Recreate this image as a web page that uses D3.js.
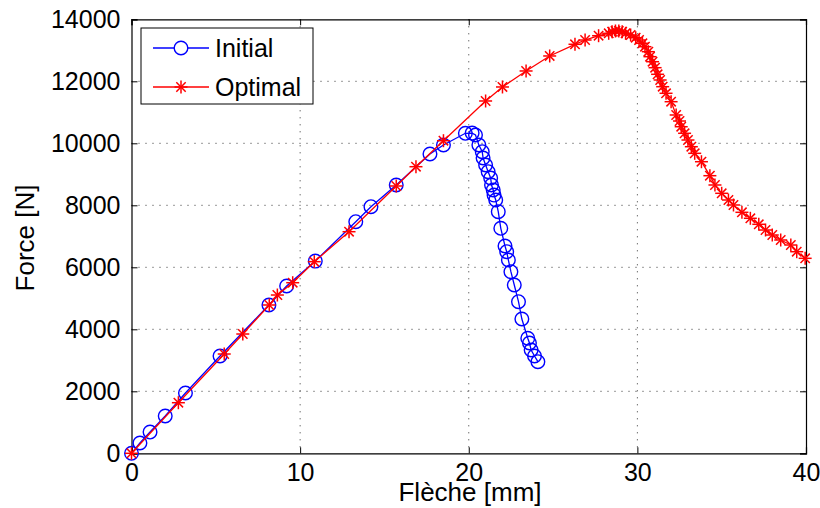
<!DOCTYPE html>
<html><head><meta charset="utf-8">
<script src="https://cdn.jsdelivr.net/npm/d3@7"></script>
<style>body{margin:0;background:#fff}svg{display:block}text{font-family:"Liberation Sans",Arial,sans-serif}</style>
</head><body><svg id="c" width="820" height="508"></svg>
<script>
const initialX=[0,0.5,1.1,2.0,3.2,5.25,8.15,9.2,10.9,13.3,14.2,15.7,17.7,18.5,19.8,20.2,20.4,20.6,20.8,20.85,21.0,21.15,21.3,21.35,21.45,21.5,21.6,21.75,21.9,22.15,22.25,22.35,22.5,22.7,22.95,23.15,23.5,23.6,23.7,23.9,24.1];
const initialY=[0,332,686,1203,1945,3139,4784,5397,6200,7471,7955,8655,9655,9945,10323,10330,10268,9945,9729,9526,9300,9084,8880,8655,8494,8330,8171,7794,7258,6687,6503,6235,5858,5429,4890,4332,3710,3558,3332,3139,2955];
const optimalX=[0,2.78,5.5,6.6,8.17,8.65,9.56,10.84,12.9,15.7,16.87,18.5,21.0,22.0,23.4,24.8,26.3,26.9,27.7,28.3,28.5,28.7,28.9,29.1,29.3,29.6,29.9,30.1,30.3,30.45,30.65,30.75,30.9,31.05,31.2,31.35,31.5,31.7,32.0,32.3,32.5,32.6,32.8,33.0,33.2,33.4,33.8,34.3,34.6,35.0,35.4,35.7,36.2,36.7,37.2,37.6,38.0,38.5,39.1,39.45,39.95];
const optimalY=[0,1632,3203,3848,4784,5106,5503,6181,7148,8623,9245,10084,11365,11817,12333,12817,13194,13332,13471,13548,13600,13623,13623,13600,13548,13494,13406,13332,13226,13116,12955,12794,12632,12439,12226,12042,11826,11613,11342,10913,10719,10535,10323,10106,9890,9677,9406,8955,8655,8387,8171,8010,7774,7581,7387,7203,7042,6881,6719,6503,6290];
const xTicks=[0,10,20,30,40];
const yTicks=[0,2000,4000,6000,8000,10000,12000,14000];
const seriesNames=["Initial","Optimal"];
const seriesColors=["#0000ff","#ff0000"];

const svg=d3.select("#c");
const L=131.5,R=806,T=19.3,B=453.3;
const x=d3.scaleLinear().domain([0,40]).range([L,R]);
const y=d3.scaleLinear().domain([0,14000]).range([B,T]);

// grid
const g=svg.append("g");
g.selectAll(".gx").data(xTicks.slice(1,-1)).join("line")
 .attr("x1",d=>x(d)).attr("x2",d=>x(d)).attr("y1",T).attr("y2",B)
 .attr("stroke","#333").attr("stroke-width",1).attr("stroke-dasharray","1,6");
g.selectAll(".gy").data(yTicks.slice(1,-1)).join("line")
 .attr("y1",d=>y(d)).attr("y2",d=>y(d)).attr("x1",L).attr("x2",R)
 .attr("stroke","#333").attr("stroke-width",1).attr("stroke-dasharray","1,6");

// axes with inward ticks
const fs="25px";
const fmt=d3.format("d");
const ax=svg.append("g").attr("transform",`translate(0,${B})`).call(d3.axisBottom(x).tickValues(xTicks).tickSize(-6).tickPadding(10).tickFormat(fmt));
const axT=svg.append("g").attr("transform",`translate(0,${T})`).call(d3.axisTop(x).tickValues(xTicks).tickSize(-6).tickFormat(""));
const ay=svg.append("g").attr("transform",`translate(${L},0)`).call(d3.axisLeft(y).tickValues(yTicks).tickSize(-6).tickPadding(11).tickFormat(fmt));
const ayR=svg.append("g").attr("transform",`translate(${R},0)`).call(d3.axisRight(y).tickValues(yTicks).tickSize(-6).tickFormat(""));
[ax,axT,ay,ayR].forEach(a=>{a.select(".domain").attr("stroke","#000").attr("stroke-width",1.2);a.selectAll("line").attr("stroke","#000");a.selectAll("text").attr("font-size",fs).attr("fill","#000").attr("font-family","'Liberation Sans',Arial,sans-serif");});
ax.selectAll("text").attr("dy","0.71em");

// lines
const line=d3.line().x(d=>x(d[0])).y(d=>y(d[1]));
const dataI=initialX.map((v,i)=>[v,initialY[i]]);
const dataO=optimalX.map((v,i)=>[v,optimalY[i]]);
svg.append("path").datum(dataI).attr("d",line).attr("fill","none").attr("stroke",seriesColors[0]).attr("stroke-width",1.3);
svg.selectAll(".ci").data(dataI).join("circle").attr("cx",d=>x(d[0])).attr("cy",d=>y(d[1])).attr("r",6.8)
 .attr("fill","none").attr("stroke",seriesColors[0]).attr("stroke-width",1.4);
svg.append("path").datum(dataO).attr("d",line).attr("fill","none").attr("stroke",seriesColors[1]).attr("stroke-width",1.3);
function star(sel,cx,cy,r,col){
  const a=r*0.72;
  const gg=sel.append("g").attr("stroke",col).attr("stroke-width",1.5);
  gg.append("line").attr("x1",cx-r).attr("x2",cx+r).attr("y1",cy).attr("y2",cy);
  gg.append("line").attr("x1",cx).attr("x2",cx).attr("y1",cy-r).attr("y2",cy+r);
  gg.append("line").attr("x1",cx-a).attr("x2",cx+a).attr("y1",cy-a).attr("y2",cy+a);
  gg.append("line").attr("x1",cx-a).attr("x2",cx+a).attr("y1",cy+a).attr("y2",cy-a);
}
const sg=svg.append("g");
dataO.forEach(d=>star(sg,x(d[0]),y(d[1]),6.5,seriesColors[1]));

// axis labels
svg.append("text").attr("x",470).attr("y",501).attr("text-anchor","middle").attr("font-size","26px").text("Flèche [mm]");
svg.append("text").attr("transform","translate(34,238) rotate(-90)").attr("text-anchor","middle").attr("font-size","26px").text("Force [N]");

// legend
const lg=svg.append("g");
lg.append("rect").attr("x",141).attr("y",28).attr("width",172).attr("height",76).attr("fill","#fff").attr("stroke","#000").attr("stroke-width",1);
const ly=[48,87];
lg.append("line").attr("x1",153).attr("x2",209).attr("y1",ly[0]).attr("y2",ly[0]).attr("stroke",seriesColors[0]).attr("stroke-width",1.3);
lg.append("circle").attr("cx",181).attr("cy",ly[0]).attr("r",6.8).attr("fill","#fff").attr("stroke",seriesColors[0]).attr("stroke-width",1.4);
lg.append("line").attr("x1",153).attr("x2",209).attr("y1",ly[1]).attr("y2",ly[1]).attr("stroke",seriesColors[1]).attr("stroke-width",1.3);
star(lg,181,ly[1],6.5,seriesColors[1]);
seriesNames.forEach((n,i)=>lg.append("text").attr("x",215).attr("y",ly[i]+9).attr("font-size",fs).text(n));
</script></body></html>
